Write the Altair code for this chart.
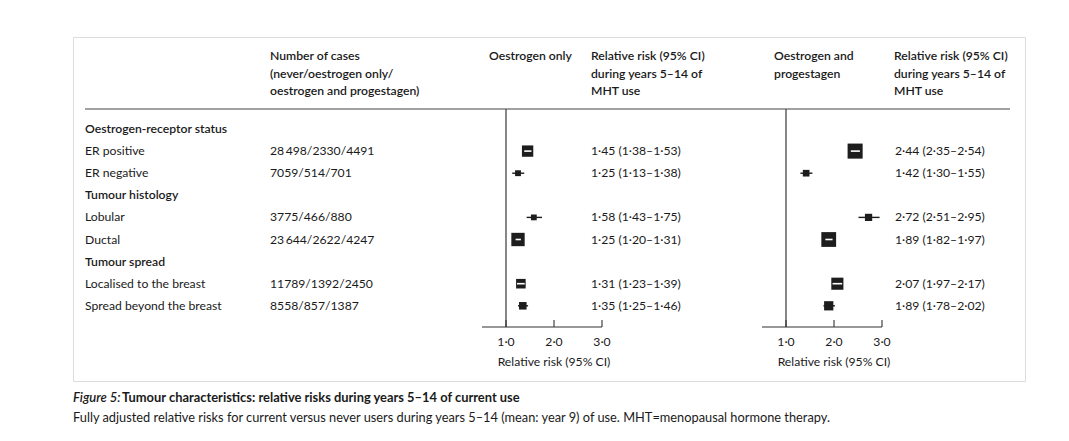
import altair as alt
import pandas as pd

# ---------------- data ----------------
labels = ["Oestrogen-receptor status", "ER positive", "ER negative",
          "Tumour histology", "Lobular", "Ductal",
          "Tumour spread", "Localised to the breast", "Spread beyond the breast"]
is_section = [True, False, False, True, False, False, True, False, False]
cases = ["", "28\u2009498/2330/4491", "7059/514/701",
         "", "3775/466/880", "23\u2009644/2622/4247",
         "", "11789/1392/2450", "8558/857/1387"]

eo_est = [None, 1.45, 1.25, None, 1.58, 1.25, None, 1.31, 1.35]
eo_lo = [None, 1.38, 1.13, None, 1.43, 1.20, None, 1.23, 1.25]
eo_hi = [None, 1.53, 1.38, None, 1.75, 1.31, None, 1.39, 1.46]

ep_est = [None, 2.44, 1.42, None, 2.72, 1.89, None, 2.07, 1.89]
ep_lo = [None, 2.35, 1.30, None, 2.51, 1.82, None, 1.97, 1.78]
ep_hi = [None, 2.54, 1.55, None, 2.95, 1.97, None, 2.17, 2.02]

x_domain = [0.5, 3.0]
ref_value = 1.0
ticks = [1.0, 2.0, 3.0]
tick_labels = ["1\u00b70", "2\u00b70", "3\u00b70"]
axis_title = "Relative risk (95% CI)"
title_at = 2.0

header_cases = ["Number of cases", "(never/oestrogen only/", "oestrogen and progestagen)"]
header_eo = ["Oestrogen only"]
header_ep = ["Oestrogen and", "progestagen"]
header_rr = ["Relative risk (95% CI)", "during years 5\u201314 of", "MHT use"]
caption_fig = "Figure 5:"
caption_title = "Tumour characteristics: relative risks during years 5\u201314 of current use"
caption_text = ("Fully adjusted relative risks for current versus never users during years 5\u201314 "
                "(mean: year 9) of use. MHT=menopausal hormone therapy.")

# ---------------- style ----------------
FONT = "Lato"
INK = "#1a1a1a"
SQ = "#1d1d1d"
LINE = "#555555"
BORDER = "#b08497"
FS = 12.2
PX_PER_UNIT = 120 / (x_domain[1] - x_domain[0])
W_MAX = 2600
AREA_MAX = 232

rows = list(range(len(labels)))


def fmt(v):
    return f"{v:.2f}".replace(".", "\u00b7")


table = pd.DataFrame({"row": rows, "label": labels, "section": is_section, "cases": cases})


def panel_df(est, lo, hi):
    d = pd.DataFrame({"row": rows, "est": est, "lo": lo, "hi": hi}).dropna()
    d["rr"] = [f"{fmt(e)} ({fmt(l)}\u2013{fmt(h)})" for e, l, h in zip(d.est, d.lo, d.hi)]
    return d


Y = alt.Y("row:Q", scale=alt.Scale(domain=[0, len(labels) - 1], range=[92, 268.8]), axis=None)

W_EXPR = "pow(3.92 / log(datum.hi / datum.lo), 2)"


def panel(d, x_range, rr_x):
    xs = alt.Scale(domain=x_domain, range=x_range, nice=False, zero=False)
    base = alt.Chart(d)
    layers = []
    layers.append(
        alt.Chart(pd.DataFrame({"v": [ref_value]})).mark_rule(color=LINE, strokeWidth=1.4).encode(
            x=alt.X("v:Q", scale=xs, axis=None), y=alt.value(72), y2=alt.value(290))
    )
    layers.append(
        alt.Chart(pd.DataFrame({"a": [x_domain[0]], "b": [x_domain[1]]})).mark_rule(
            color="#333333", strokeWidth=1.2).encode(
            x=alt.X("a:Q", scale=xs, axis=None), x2="b:Q", y=alt.value(290))
    )
    tdf = pd.DataFrame({"t": ticks, "lab": tick_labels})
    layers.append(
        alt.Chart(tdf).mark_rule(color="#333333", strokeWidth=1.1).encode(
            x=alt.X("t:Q", scale=xs, axis=None), y=alt.value(283), y2=alt.value(290))
    )
    layers.append(
        alt.Chart(tdf).mark_text(font=FONT, fontSize=FS, color=INK, align="center", baseline="middle").encode(
            x=alt.X("t:Q", scale=xs, axis=None), y=alt.value(305), text="lab:N")
    )
    layers.append(
        alt.Chart(pd.DataFrame({"t": [title_at], "lab": [axis_title]})).mark_text(
            font=FONT, fontSize=FS, color=INK, align="center", baseline="middle").encode(
            x=alt.X("t:Q", scale=xs, axis=None), y=alt.value(325), text="lab:N")
    )
    layers.append(
        base.mark_rule(color=SQ, strokeWidth=1.4).encode(
            x=alt.X("lo:Q", scale=xs, axis=None), x2="hi:Q", y=Y)
    )
    layers.append(
        base.transform_calculate(w=W_EXPR).mark_square(color=SQ, opacity=1).encode(
            x=alt.X("est:Q", scale=xs, axis=None), y=Y,
            size=alt.Size("w:Q", scale=alt.Scale(domain=[0, W_MAX], range=[0, AREA_MAX]), legend=None))
    )
    layers.append(
        base.transform_calculate(w=W_EXPR)
        .transform_calculate(side=f"sqrt(datum.w * {AREA_MAX / W_MAX})",
                             ciw=f"(datum.hi - datum.lo) * {PX_PER_UNIT}")
        .transform_filter("datum.ciw < datum.side - 1")
        .mark_rule(color="white", strokeWidth=1.6).encode(
            x=alt.X("lo:Q", scale=xs, axis=None), x2="hi:Q", y=Y)
    )
    layers.append(
        base.mark_text(font=FONT, fontSize=FS, color=INK, align="left", baseline="middle").encode(
            x=alt.value(rr_x), y=Y, text="rr:N")
    )
    return layers


one = pd.DataFrame({"k": [0]})


def htext(lines, x, weight=600):
    return alt.Chart(one).mark_text(
        text=lines, font=FONT, fontSize=FS, fontWeight=weight, color=INK,
        align="left", baseline="middle", lineHeight=17.5).encode(
        x=alt.value(x), y=alt.value(19))


layers = []
layers += panel(panel_df(eo_est, eo_lo, eo_hi), [409, 529], 518)
layers += panel(panel_df(ep_est, ep_lo, ep_hi), [689, 809], 822)

layers.append(alt.Chart(one).mark_rule(color="#444444", strokeWidth=1.2).encode(
    x=alt.value(12), x2=alt.value(937), y=alt.value(72)))

layers.append(htext(header_cases, 197))
layers.append(htext(header_eo, 416))
layers.append(htext(header_rr, 518))
layers.append(htext(header_ep, 701))
layers.append(htext(header_rr, 821))

layers.append(alt.Chart(table).transform_filter("datum.section").mark_text(
    font=FONT, fontSize=FS, fontWeight=600, color=INK, align="left", baseline="middle").encode(
    x=alt.value(12), y=Y, text="label:N"))
layers.append(alt.Chart(table).transform_filter("!datum.section").mark_text(
    font=FONT, fontSize=FS, color=INK, align="left", baseline="middle").encode(
    x=alt.value(12), y=Y, text="label:N"))
layers.append(alt.Chart(table).mark_text(
    font=FONT, fontSize=FS, color=INK, align="left", baseline="middle").encode(
    x=alt.value(197), y=Y, text="cases:N"))

layers.append(alt.Chart(one).mark_text(
    text=caption_fig, font=FONT, fontSize=13, fontStyle="italic", fontWeight=600, color=INK,
    align="left", baseline="middle").encode(x=alt.value(0), y=alt.value(361)))
layers.append(alt.Chart(one).mark_text(
    text=caption_title, font=FONT, fontSize=12.9, fontWeight=700, color=INK,
    align="left", baseline="middle").encode(x=alt.value(49), y=alt.value(361)))
layers.append(alt.Chart(one).mark_text(
    text=caption_text, font=FONT, fontSize=12.8, color=INK,
    align="left", baseline="middle").encode(x=alt.value(0), y=alt.value(381)))

chart = alt.layer(*layers).resolve_scale(x="independent").properties(
    width=952, height=344,
    padding={"left": 65, "top": 29, "right": 30, "bottom": 50},
    autosize=alt.AutoSizeParams(type="none"),
).configure_view(stroke=BORDER, strokeWidth=1.3).configure(background="white")

chart.save("out.html", embed_options={"renderer": "svg", "actions": False})
